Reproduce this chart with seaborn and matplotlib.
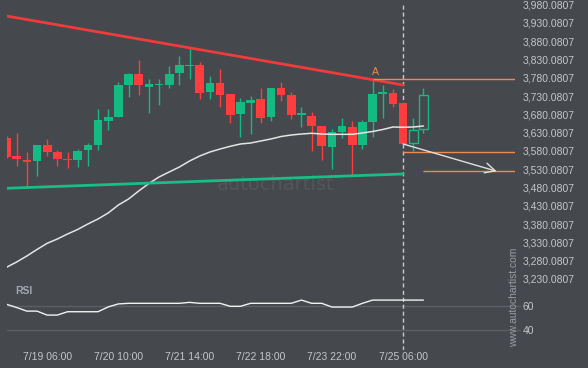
import numpy as np
import pandas as pd
import seaborn as sns
import matplotlib.pyplot as plt

# 4h candles, values
opens = [3616.5, 3567.2, 3555.5, 3553.6, 3596.5, 3576.5, 3557.4, 3556.3, 3582.8, 3596.5,
         3662.9, 3673.9, 3760.5, 3790.6, 3755.9, 3760.5, 3760.5, 3794.2, 3813.3, 3815.2,
         3741.4, 3766.0, 3735.9, 3681.2, 3712.1, 3722.3, 3673.1, 3752.3, 3732.4, 3678.5,
         3675.8, 3648.5, 3591.9, 3632.9, 3646.5, 3596.5, 3659.4, 3736.7, 3738.7, 3710.5,
         3601.1, 3639.4]
highs = [3621.1, 3628.5, 3578.2, 3596.5, 3612.1, 3582.8, 3576.5, 3585.6, 3601.1, 3694.1,
         3694.9, 3767.9, 3794.2, 3828.9, 3776.9, 3776.9, 3813.3, 3839.8, 3860.9, 3822.6,
         3784.3, 3803.5, 3735.9, 3724.2, 3730.5, 3753.2, 3752.3, 3767.9, 3740.6, 3701.2,
         3685.9, 3648.5, 3641.1, 3670.3, 3662.1, 3664.8, 3776.1, 3760.5, 3749.6, 3710.5,
         3669.5, 3751.5]
lows = [3561.0, 3539.9, 3482.5, 3511.7, 3566.4, 3539.9, 3532.8, 3535.5, 3539.9, 3582.0,
        3637.5, 3673.9, 3726.9, 3733.2, 3684.8, 3705.0, 3753.2, 3760.5, 3777.8, 3723.1,
        3723.1, 3699.6, 3657.5, 3619.2, 3626.6, 3657.5, 3663.0, 3716.8, 3667.6, 3644.9,
        3580.9, 3555.5, 3530.1, 3615.6, 3513.7, 3584.8, 3619.2, 3669.5, 3699.6, 3599.2,
        3580.9, 3630.1]
closes = [3564.5, 3557.4, 3550.8, 3596.5, 3578.2, 3559.0, 3555.5, 3580.1, 3596.5, 3664.8,
          3673.9, 3760.5, 3790.6, 3760.5, 3763.3, 3763.3, 3790.6, 3815.2, 3815.2, 3739.5,
          3766.8, 3733.2, 3679.3, 3714.1, 3720.3, 3671.1, 3752.3, 3734.0, 3679.3, 3683.2,
          3649.3, 3594.6, 3632.0, 3648.5, 3596.5, 3659.4, 3735.9, 3740.6, 3708.6, 3599.2,
          3637.5, 3732.4]
n_live = 2  # last candles drawn hollow (after the signal)

moving_avg = [3262.1, 3276.6, 3293.0, 3310.8, 3327.7, 3339.5, 3353.1, 3365.5, 3380.5, 3394.2,
              3410.6, 3432.4, 3448.8, 3470.7, 3491.2, 3509.0, 3522.7, 3536.3, 3552.7, 3566.4,
              3577.3, 3585.5, 3592.9, 3599.2, 3601.9, 3607.4, 3612.9, 3619.7, 3623.8, 3626.5,
              3628.5, 3626.5, 3625.7, 3625.7, 3625.7, 3629.3, 3633.4, 3638.8, 3645.7, 3644.9,
              3645.7, 3648.4]
rsi = [61.7, 59.0, 56.0, 56.0, 52.7, 52.7, 55.5, 55.5, 55.5, 55.5,
       59.5, 62.0, 62.5, 62.5, 62.5, 62.5, 62.5, 62.5, 63.3, 62.5,
       62.5, 62.5, 60.0, 60.0, 62.5, 62.5, 62.5, 62.5, 62.5, 65.2,
       62.5, 62.5, 59.4, 59.4, 59.4, 62.5, 65.2, 65.2, 65.2, 65.2,
       65.2, 65.2]

# pattern lines
resistance = [(0, 3949.2), (39, 3760.5)]
support = [(0, 3478.1), (39, 3517.2)]
level_a = (36, 3776.1)
level_break = (39, 3576.5)
level_target = (41, 3524.6)
forecast = [(39, 3599.2), (48.2, 3524.6)]

tick_pos = [4, 11, 18, 25, 32, 39]
tick_labels = ["7/19 06:00", "7/20 10:00", "7/21 14:00", "7/22 18:00", "7/23 22:00", "7/25 06:00"]
price_ticks = [3230.0807 + 50 * k for k in range(16)]
signal_idx = 39

BG = "#45484d"
GREEN = "#15b982"
RED = "#ff3d3d"
ORANGE = "#f08a4f"
TXT = "#c4c6c9"

sns.set_theme(style="dark", rc={"axes.facecolor": BG, "figure.facecolor": BG})
plt.rcParams['font.family'] = ['Liberation Sans', 'DejaVu Sans']

df = pd.DataFrame({"i": np.arange(len(opens)), "open": opens, "high": highs,
                   "low": lows, "close": closes, "ma": moving_avg, "rsi": rsi})

fig = plt.figure(figsize=(5.88, 3.68), dpi=100)
W, H = 588, 368
ax = fig.add_axes([6.5 / W, 1 - 287 / H, 508.5 / W, 287 / H])
ax_rsi = fig.add_axes([6.5 / W, 1 - 350 / H, 508.5 / W, 63 / H])

# watermark
ax.text(0.414, 0.338, "autochartist", transform=ax.transAxes, fontsize=14,
        color="#52555a", family="DejaVu Sans", va="baseline", zorder=0)

# candles
n = len(df)
for _, r in df.iterrows():
    live = r["i"] >= n - n_live
    up = r["close"] >= r["open"]
    col = GREEN if (up or live) else RED
    lo, hi = min(r["open"], r["close"]), max(r["open"], r["close"])
    ax.vlines(r["i"], r["low"], r["high"], color=col, lw=1, zorder=2)
    ax.bar(r["i"], max(hi - lo, 3), bottom=lo, width=0.85,
           color=BG if live else col, edgecolor=col if live else "none",
           linewidth=1 if live else 0, zorder=3)

sns.lineplot(data=df, x="i", y="ma", ax=ax, color="#e4e4e4", lw=1.1, zorder=4)

ax.plot(*zip(*resistance), color="#ee3b3b", lw=2, zorder=5)
ax.plot(*zip(*support), color="#19be85", lw=2, zorder=5)

ax.hlines(level_a[1], level_a[0], 50, color=ORANGE, lw=1, zorder=5)
ax.hlines(level_break[1], level_break[0], 50, color=ORANGE, lw=1, zorder=5)
ax.hlines(level_target[1], level_target[0], 50, color=ORANGE, lw=1, zorder=5)
ax.text(level_a[0] + 0.3, level_a[1] + 5, "A", color=ORANGE, fontsize=7.5,
        ha="center", va="bottom", zorder=6)
ax.annotate("", xy=forecast[1], xytext=forecast[0],
            arrowprops=dict(arrowstyle="->,head_length=0.6,head_width=0.3",
                            color="#e0e0e0", lw=1, shrinkA=0, shrinkB=0), zorder=6)

ax.axvline(signal_idx, ymax=0.986, color="#c8c8c8", lw=1, ls=(0, (3, 2)), zorder=1)

ax.set_xlim(0, 50)
ax.set_ylim(3208.2, 3992.9)
ax.yaxis.tick_right()
ax.set_yticks(price_ticks)
ax.set_yticklabels([f"{p:,.4f}" for p in price_ticks])
ax.tick_params(axis="y", length=0, pad=5.5, labelsize=7.5, labelcolor=TXT)
ax.set_xticks([])
ax.set_xlabel("")
ax.set_ylabel("")
ax.grid(False)
for s in ax.spines.values():
    s.set_visible(False)

# RSI panel
for lvl in (60, 40):
    ax_rsi.axhline(lvl, xmax=1.01, color="#5c5f64", lw=1, clip_on=False, zorder=1)
sns.lineplot(data=df, x="i", y="rsi", ax=ax_rsi, color="#f2f2f2", lw=1, zorder=3)
ax_rsi.axvline(signal_idx, color="#c8c8c8", lw=1, ls=(0, (3, 2)), zorder=2)
ax_rsi.text(0.0167, 0.937, "RSI", transform=ax_rsi.transAxes, fontsize=7.5,
            fontweight="bold", color="#a3a7b0", va="center", ha="left")
ax_rsi.set_xlim(0, 50)
ax_rsi.set_ylim(23.6, 76.1)
ax_rsi.yaxis.tick_right()
ax_rsi.set_yticks([60, 40])
ax_rsi.set_yticklabels(["60", "40"])
ax_rsi.set_xticks(tick_pos)
ax_rsi.set_xticklabels(tick_labels)
ax_rsi.tick_params(axis="both", length=0, labelsize=7.5, labelcolor=TXT)
ax_rsi.tick_params(axis="y", pad=5.5)
ax_rsi.tick_params(axis="x", pad=1.5)
ax_rsi.set_xlabel("")
ax_rsi.set_ylabel("")
ax_rsi.grid(False)
for s in ax_rsi.spines.values():
    s.set_visible(False)

fig.text(514.5 / W, 1 - 297 / H, "www.autochartist.com", rotation=90, fontsize=7.4,
         color="#9a9da3", ha="center", va="center")

fig.savefig("out.png", dpi=100, facecolor=BG)
